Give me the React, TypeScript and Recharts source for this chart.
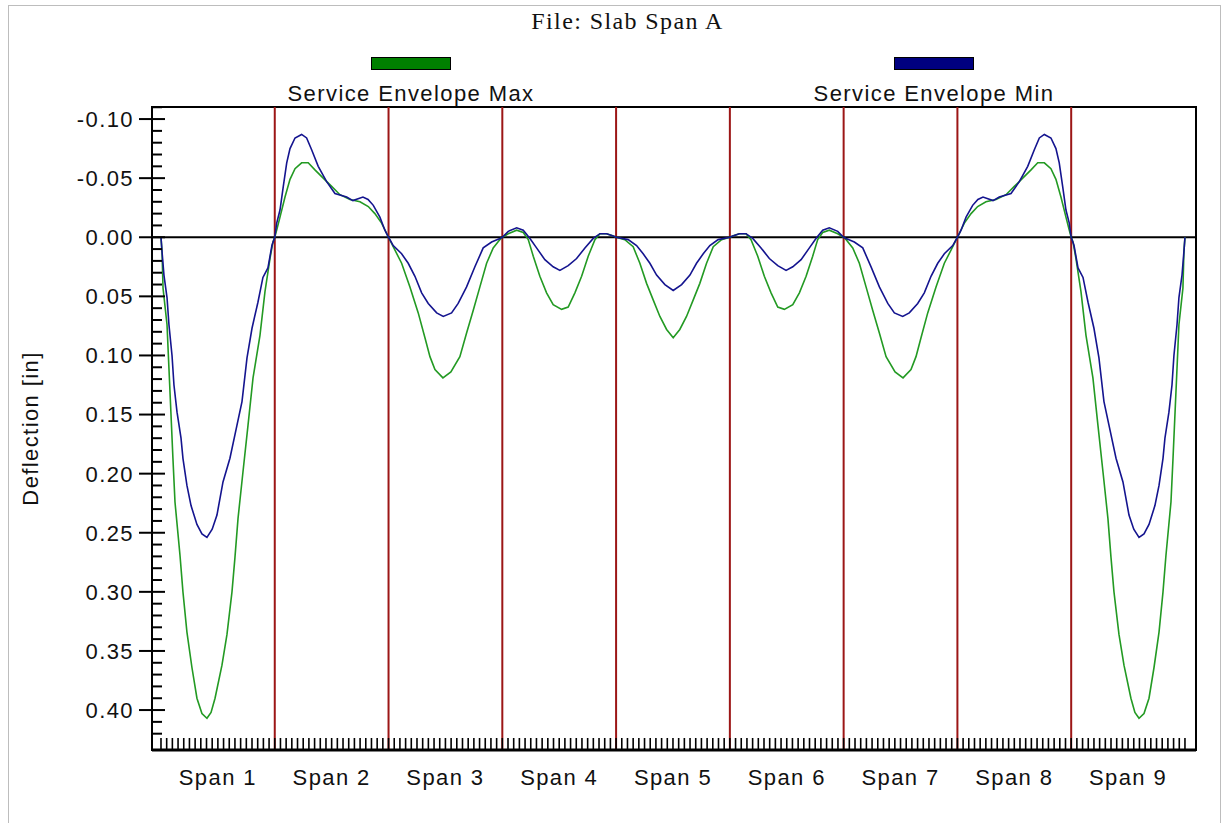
import { LineChart, Line, XAxis, YAxis, ReferenceLine, ReferenceArea } from 'recharts'

// station along slab (in spans) and deflection [in]
const maxEnvelope: [number, number][] = [
  [0, 0], [0.009, 0.012], [0.018, 0.043], [0.053, 0.074], [0.07, 0.111], [0.088, 0.15], [0.105, 0.187], [0.123, 0.224],
  [0.167, 0.269], [0.193, 0.3], [0.228, 0.334], [0.272, 0.364], [0.316, 0.39], [0.36, 0.403], [0.404, 0.407], [0.44, 0.402],
  [0.475, 0.39], [0.536, 0.362], [0.58, 0.336], [0.624, 0.3], [0.65, 0.271], [0.677, 0.238], [0.72, 0.199], [0.765, 0.159],
  [0.809, 0.119], [0.87, 0.083], [0.914, 0.046], [0.958, 0.018], [0.984, 0.004],
  [1, 0], [1.017, -0.006], [1.046, -0.017], [1.09, -0.034], [1.134, -0.049], [1.178, -0.058], [1.236, -0.063], [1.294, -0.063],
  [1.353, -0.057], [1.426, -0.05], [1.5, -0.043], [1.573, -0.036], [1.661, -0.032], [1.749, -0.03], [1.822, -0.026], [1.88, -0.02], [1.939, -0.012],
  [2, 0], [2.041, 0.008], [2.115, 0.022], [2.188, 0.042], [2.261, 0.064], [2.32, 0.085], [2.364, 0.101], [2.408, 0.112],
  [2.478, 0.119], [2.548, 0.114], [2.627, 0.101], [2.686, 0.081], [2.744, 0.062], [2.803, 0.042], [2.862, 0.022], [2.92, 0.009], [2.979, 0.002],
  [3, 0], [3.052, -0.003], [3.126, -0.006], [3.184, -0.004], [3.228, 0.002], [3.272, 0.016], [3.33, 0.033], [3.389, 0.047],
  [3.447, 0.057], [3.521, 0.061], [3.579, 0.059], [3.638, 0.047], [3.697, 0.033], [3.755, 0.016], [3.814, 0.002], [3.858, -0.003], [3.917, -0.003], [3.975, -0.001],
  [4, 0], [4.077, 0.002], [4.15, 0.008], [4.209, 0.022], [4.268, 0.039], [4.326, 0.053], [4.385, 0.067], [4.444, 0.078],
  [4.502, 0.085], [4.56, 0.078], [4.619, 0.067], [4.678, 0.053], [4.736, 0.039], [4.795, 0.022], [4.854, 0.008], [4.927, 0.002],
  [5, 0], [5.025, -0.001], [5.083, -0.003], [5.142, -0.003], [5.186, 0.002], [5.245, 0.016], [5.303, 0.033], [5.362, 0.047],
  [5.421, 0.059], [5.479, 0.061], [5.553, 0.057], [5.611, 0.047], [5.67, 0.033], [5.728, 0.016], [5.772, 0.002], [5.816, -0.004], [5.874, -0.006], [5.948, -0.003],
  [6, 0], [6.021, 0.002], [6.08, 0.009], [6.138, 0.022], [6.197, 0.042], [6.256, 0.062], [6.314, 0.081], [6.373, 0.101],
  [6.452, 0.114], [6.522, 0.119], [6.592, 0.112], [6.636, 0.101], [6.68, 0.085], [6.739, 0.064], [6.812, 0.042], [6.885, 0.022], [6.959, 0.008],
  [7, 0], [7.061, -0.012], [7.12, -0.02], [7.178, -0.026], [7.251, -0.03], [7.339, -0.032], [7.427, -0.036], [7.5, -0.043],
  [7.574, -0.05], [7.647, -0.057], [7.706, -0.063], [7.764, -0.063], [7.822, -0.058], [7.866, -0.049], [7.91, -0.034], [7.954, -0.017], [7.983, -0.006],
  [8, 0], [8.016, 0.004], [8.042, 0.018], [8.086, 0.046], [8.13, 0.083], [8.191, 0.119], [8.235, 0.159], [8.28, 0.199],
  [8.323, 0.238], [8.35, 0.271], [8.376, 0.3], [8.42, 0.336], [8.464, 0.362], [8.525, 0.39], [8.56, 0.402], [8.596, 0.407],
  [8.64, 0.403], [8.684, 0.39], [8.728, 0.364], [8.772, 0.334], [8.807, 0.3], [8.833, 0.269], [8.877, 0.224], [8.895, 0.187],
  [8.912, 0.15], [8.93, 0.111], [8.947, 0.074], [8.982, 0.043], [8.991, 0.012], [9, 0],
]

const minEnvelope: [number, number][] = [
  [0, 0], [0.009, 0.012], [0.026, 0.032], [0.053, 0.051], [0.07, 0.074], [0.097, 0.1], [0.114, 0.125], [0.141, 0.148],
  [0.176, 0.17], [0.193, 0.187], [0.228, 0.21], [0.264, 0.227], [0.316, 0.243], [0.36, 0.251], [0.404, 0.254], [0.45, 0.247],
  [0.492, 0.235], [0.545, 0.207], [0.606, 0.187], [0.668, 0.159], [0.712, 0.139], [0.756, 0.102], [0.8, 0.077], [0.852, 0.055],
  [0.896, 0.034], [0.94, 0.026], [0.975, 0.007],
  [1, 0], [1.017, -0.012], [1.046, -0.023], [1.075, -0.043], [1.105, -0.063], [1.134, -0.075], [1.178, -0.084], [1.236, -0.087],
  [1.28, -0.084], [1.324, -0.074], [1.382, -0.06], [1.456, -0.047], [1.529, -0.037], [1.632, -0.034], [1.687, -0.031], [1.775, -0.034],
  [1.82, -0.032], [1.866, -0.027], [1.924, -0.017], [1.968, -0.006],
  [2, 0], [2.041, 0.007], [2.115, 0.014], [2.173, 0.022], [2.232, 0.033], [2.291, 0.047], [2.349, 0.056], [2.423, 0.064],
  [2.481, 0.067], [2.554, 0.064], [2.612, 0.056], [2.686, 0.042], [2.759, 0.025], [2.832, 0.009], [2.906, 0.004], [2.979, 0.001],
  [3, 0], [3.052, -0.005], [3.126, -0.008], [3.184, -0.006], [3.243, 0.001], [3.301, 0.009], [3.374, 0.019], [3.447, 0.025],
  [3.506, 0.028], [3.579, 0.024], [3.653, 0.018], [3.726, 0.009], [3.799, 0.001], [3.858, -0.003], [3.917, -0.003], [3.975, -0.001],
  [4, 0], [4.106, 0.002], [4.18, 0.007], [4.238, 0.014], [4.297, 0.022], [4.356, 0.032], [4.429, 0.04], [4.502, 0.045],
  [4.576, 0.04], [4.649, 0.032], [4.707, 0.022], [4.766, 0.014], [4.824, 0.007], [4.897, 0.002],
  [5, 0], [5.025, -0.001], [5.083, -0.003], [5.142, -0.003], [5.201, 0.001], [5.274, 0.009], [5.347, 0.018], [5.421, 0.024],
  [5.494, 0.028], [5.553, 0.025], [5.626, 0.019], [5.699, 0.009], [5.757, 0.001], [5.816, -0.006], [5.874, -0.008], [5.948, -0.005],
  [6, 0], [6.021, 0.001], [6.094, 0.004], [6.168, 0.009], [6.241, 0.025], [6.314, 0.042], [6.388, 0.056], [6.446, 0.064],
  [6.519, 0.067], [6.577, 0.064], [6.651, 0.056], [6.709, 0.047], [6.768, 0.033], [6.827, 0.022], [6.885, 0.014], [6.959, 0.007],
  [7, 0], [7.032, -0.006], [7.076, -0.017], [7.134, -0.027], [7.18, -0.032], [7.225, -0.034], [7.313, -0.031], [7.368, -0.034],
  [7.471, -0.037], [7.544, -0.047], [7.618, -0.06], [7.676, -0.074], [7.72, -0.084], [7.764, -0.087], [7.822, -0.084], [7.866, -0.075],
  [7.895, -0.063], [7.925, -0.043], [7.954, -0.023], [7.983, -0.012],
  [8, 0], [8.025, 0.007], [8.06, 0.026], [8.104, 0.034], [8.148, 0.055], [8.2, 0.077], [8.244, 0.102], [8.288, 0.139],
  [8.332, 0.159], [8.394, 0.187], [8.455, 0.207], [8.508, 0.235], [8.55, 0.247], [8.596, 0.254], [8.64, 0.251], [8.684, 0.243],
  [8.736, 0.227], [8.772, 0.21], [8.807, 0.187], [8.824, 0.17], [8.859, 0.148], [8.886, 0.125], [8.903, 0.1], [8.93, 0.074],
  [8.947, 0.051], [8.974, 0.032], [8.991, 0.012], [9, 0],
]

const spanLabels = ['Span 1', 'Span 2', 'Span 3', 'Span 4', 'Span 5', 'Span 6', 'Span 7', 'Span 8', 'Span 9']
const supports = [1, 2, 3, 4, 5, 6, 7, 8]

// axis ticks: minor every 0.01 in, x ticks every 1/20 span
const yTicks: number[] = []
for (let i = -11; i <= 42; i++) yTicks.push(i / 100)
const xTicks: number[] = []
for (let i = 0; i <= 180; i++) xTicks.push(i / 20)

const X_DOMAIN: [number, number] = [-0.079, 9.097]
const Y_DOMAIN: [number, number] = [-0.1102, 0.4338]

const font = '"Liberation Sans", Arial, sans-serif'

const maxData = maxEnvelope.map(([s, d]) => ({ s, d }))
const minData = minEnvelope.map(([s, d]) => ({ s, d }))

function YTick(props: any) {
  const { x, y, payload } = props
  const v = payload.value
  const hundredths = Math.round(v * 100)
  if (hundredths % 5 !== 0) {
    return <line x1={x} x2={x + 10} y1={y} y2={y} stroke="#000" strokeWidth={2} />
  }
  return (
    <g>
      <line x1={x - 13} x2={x + 13} y1={y} y2={y} stroke="#000" strokeWidth={2} />
      <text x={x - 18} y={y} dy="0.36em" textAnchor="end" fontFamily={font} fontSize={22} letterSpacing={1.4} fill="#111">
        {v.toFixed(2)}
      </text>
    </g>
  )
}

function XTick(props: any) {
  const { x, y, payload } = props
  const n = Math.round(payload.value * 20)
  const isCenter = n % 20 === 10
  return (
    <g>
      <line x1={x} x2={x} y1={y} y2={y - 12} stroke="#000" strokeWidth={1.6} />
      {isCenter && (
        <text x={x} y={y + 35} textAnchor="middle" fontFamily={font} fontSize={22} letterSpacing={1.4} fill="#111">
          {spanLabels[(n - 10) / 20]}
        </text>
      )}
    </g>
  )
}

export default function App() {
  return (
    <div style={{ position: 'absolute', left: 0, top: 0, width: 1222, height: 823, background: '#fff', overflow: 'hidden' }}>
      <div style={{ position: 'absolute', left: 8, top: 5, width: 1211, height: 840, border: '1px solid #bdbdbd' }} />
      <div style={{ position: 'absolute', left: 0, width: 1222, top: 8, textAlign: 'center', paddingLeft: 33, boxSizing: 'border-box',
        fontFamily: '"Liberation Serif", "Times New Roman", serif', fontSize: 24, letterSpacing: 1.4, color: '#111' }}>
        File: Slab Span A
      </div>
      {[
        { label: 'Service Envelope Max', color: '#008000', cx: 411 },
        { label: 'Service Envelope Min', color: '#000080', cx: 934 },
      ].map(item => (
        <div key={item.label}>
          <div style={{ position: 'absolute', left: item.cx - 40, top: 57, width: 78, height: 11, background: item.color, border: '1px solid #000' }} />
          <div style={{ position: 'absolute', left: item.cx - 200, width: 400, top: 81, textAlign: 'center',
            fontFamily: font, fontSize: 22, letterSpacing: 1.4, color: '#111' }}>
            {item.label}
          </div>
        </div>
      ))}
      <div style={{ position: 'absolute', left: 0, top: 0 }}>
        <LineChart width={1222} height={823} margin={{ top: 107, right: 26, bottom: 13, left: 0 }}>
          <XAxis
            type="number"
            dataKey="s"
            domain={X_DOMAIN}
            allowDataOverflow
            ticks={xTicks}
            interval={0}
            tickSize={0}
            tickMargin={0}
            tickLine={false}
            height={60}
            axisLine={{ stroke: '#000', strokeWidth: 3 }}
            tick={<XTick />}
          />
          <YAxis
            type="number"
            dataKey="d"
            domain={Y_DOMAIN}
            allowDataOverflow
            reversed
            ticks={yTicks}
            interval={0}
            tickSize={0}
            tickMargin={0}
            tickLine={false}
            width={152}
            axisLine={{ stroke: '#000', strokeWidth: 2 }}
            tick={<YTick />}
            label={{ value: 'Deflection [in]', angle: -90, position: 'insideLeft', offset: 30,
              style: { fontFamily: font, fontSize: 22, letterSpacing: 1.4, fill: '#111', textAnchor: 'middle' } }}
          />
          <ReferenceArea x1={X_DOMAIN[0]} x2={X_DOMAIN[1]} y1={Y_DOMAIN[0]} y2={Y_DOMAIN[1]} fill="none" stroke="#000" strokeWidth={2} />
          {supports.map(s => (
            <ReferenceLine key={s} x={s} stroke="#9c1616" strokeWidth={2} />
          ))}
          <ReferenceLine y={0} stroke="#000" strokeWidth={2} />
          <Line data={maxData} dataKey="d" type="linear" stroke="#239a23" strokeWidth={1.6} dot={false} isAnimationActive={false} />
          <Line data={minData} dataKey="d" type="linear" stroke="#14148f" strokeWidth={1.6} dot={false} isAnimationActive={false} />
        </LineChart>
      </div>
    </div>
  )
}
